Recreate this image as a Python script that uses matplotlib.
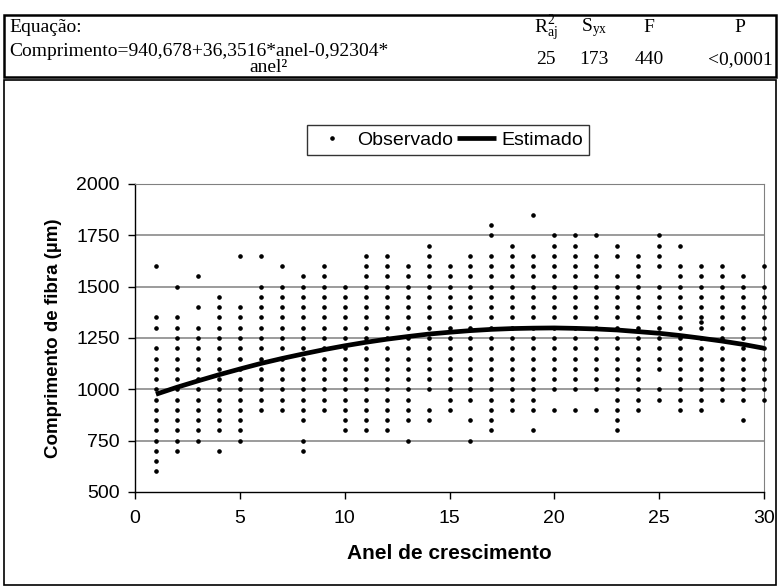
import numpy as np
import matplotlib.pyplot as plt
from matplotlib.patches import Rectangle

# ---------------------------------------------------
# Data
# ---------------------------------------------------

anel = list(range(1, 31))

obs_01 = [1600, 1350, 1300, 1200, 1150, 1100, 1050, 1000, 950, 900, 850, 800, 750, 700, 650, 600]
obs_02 = [1500, 1350, 1300, 1250, 1200, 1150, 1100, 1050, 1000, 950, 900, 850, 800, 750, 700]
obs_03 = [1550, 1400, 1300, 1250, 1200, 1150, 1100, 1050, 1000, 950, 900, 850, 800, 750]
obs_04 = [1450, 1400, 1350, 1300, 1250, 1200, 1150, 1100, 1050, 1000, 950, 900, 850, 800, 700]
obs_05 = [1650, 1400, 1350, 1300, 1250, 1200, 1150, 1100, 1050, 1000, 950, 900, 850, 800, 750]
obs_06 = [1650, 1500, 1450, 1400, 1350, 1300, 1250, 1200, 1150, 1100, 1050, 1000, 950, 900]
obs_07 = [1600, 1500, 1450, 1400, 1350, 1300, 1250, 1200, 1150, 1100, 1050, 1000, 950, 900]
obs_08 = [1550, 1500, 1450, 1400, 1350, 1300, 1250, 1200, 1150, 1100, 1050, 1000, 950, 900, 850, 750, 700]
obs_09 = [1600, 1550, 1500, 1450, 1400, 1350, 1300, 1250, 1200, 1150, 1100, 1050, 1000, 950, 900]
obs_10 = [1500, 1450, 1400, 1350, 1300, 1250, 1200, 1150, 1100, 1050, 1000, 950, 900, 850, 800]
obs_11 = [1650, 1600, 1550, 1500, 1450, 1400, 1350, 1300, 1250, 1200, 1150, 1100, 1050, 1000, 950, 900, 850, 800]
obs_12 = [1650, 1600, 1550, 1500, 1450, 1400, 1350, 1300, 1250, 1200, 1150, 1100, 1050, 1000, 950, 900, 850, 800]
obs_13 = [1600, 1550, 1500, 1450, 1400, 1350, 1300, 1250, 1200, 1150, 1100, 1050, 1000, 950, 900, 850, 750]
obs_14 = [1700, 1650, 1600, 1550, 1500, 1450, 1400, 1350, 1300, 1250, 1200, 1150, 1100, 1050, 1000, 900, 850]
obs_15 = [1600, 1550, 1500, 1450, 1400, 1350, 1300, 1250, 1200, 1150, 1100, 1050, 1000, 950, 900]
obs_16 = [1650, 1600, 1550, 1500, 1450, 1400, 1350, 1300, 1250, 1200, 1150, 1100, 1050, 1000, 950, 850, 750]
obs_17 = [1800, 1750, 1650, 1600, 1550, 1500, 1450, 1400, 1350, 1300, 1250, 1200, 1150, 1100, 1050, 1000, 950, 900, 850, 800]
obs_18 = [1700, 1650, 1600, 1550, 1500, 1450, 1400, 1350, 1300, 1250, 1200, 1150, 1100, 1050, 1000, 950, 900]
obs_19 = [1850, 1650, 1600, 1550, 1500, 1450, 1400, 1350, 1300, 1250, 1200, 1150, 1100, 1050, 1000, 950, 900, 800]
obs_20 = [1750, 1700, 1650, 1600, 1550, 1500, 1450, 1400, 1350, 1300, 1250, 1200, 1150, 1100, 1050, 1000, 900]
obs_21 = [1750, 1700, 1650, 1600, 1550, 1500, 1450, 1400, 1350, 1300, 1250, 1200, 1150, 1100, 1050, 1000, 900]
obs_22 = [1750, 1650, 1600, 1550, 1500, 1450, 1400, 1350, 1300, 1250, 1200, 1150, 1100, 1050, 1000, 900]
obs_23 = [1700, 1650, 1550, 1500, 1450, 1400, 1350, 1300, 1250, 1200, 1150, 1100, 1050, 1000, 950, 900, 850, 800]
obs_24 = [1650, 1600, 1550, 1500, 1450, 1400, 1350, 1300, 1250, 1200, 1150, 1100, 1050, 1000, 950, 900]
obs_25 = [1750, 1700, 1650, 1600, 1500, 1450, 1400, 1350, 1300, 1250, 1200, 1150, 1100, 1000, 950]
obs_26 = [1700, 1600, 1550, 1500, 1450, 1400, 1350, 1300, 1250, 1200, 1150, 1100, 1050, 1000, 950, 900]
obs_27 = [1600, 1550, 1500, 1450, 1400, 1350, 1330, 1300, 1250, 1200, 1150, 1100, 1050, 1000, 950, 900]
obs_28 = [1600, 1550, 1500, 1450, 1400, 1350, 1300, 1250, 1200, 1150, 1100, 1050, 1000, 950]
obs_29 = [1550, 1500, 1450, 1400, 1350, 1300, 1250, 1200, 1150, 1100, 1050, 1000, 950, 850]
obs_30 = [1600, 1500, 1450, 1400, 1350, 1300, 1250, 1200, 1150, 1100, 1050, 1000, 950]

# fitted curve values at each anel
estimado = [976, 1010, 1041, 1071, 1099, 1126, 1150, 1172, 1193, 1212,
            1229, 1244, 1257, 1269, 1278, 1286, 1292, 1296, 1298, 1299,
            1297, 1294, 1289, 1281, 1273, 1262, 1249, 1235, 1219, 1200]

y_ticks = [500, 750, 1000, 1250, 1500, 1750, 2000]
x_ticks = [0, 5, 10, 15, 20, 25, 30]

# header table texts
eq_label = "Equação:"
eq_line1 = "Comprimento=940,678+36,3516*anel-0,92304*"
eq_line2 = "anel²"
stat_names = [r"R$^{2}_{\mathrm{aj}}$", r"S$_{\mathrm{yx}}$", "F", "P"]
stat_values = ["25", "173", "440", "<0,0001"]

# ---------------------------------------------------
# Figure
# ---------------------------------------------------

plt.rcParams["font.family"] = ["Liberation Sans", "DejaVu Sans"]
plt.rcParams["mathtext.fontset"] = "custom"
plt.rcParams["mathtext.rm"] = "Liberation Serif"
plt.rcParams["mathtext.it"] = "Liberation Serif:italic"

W, H = 779, 588
fig = plt.figure(figsize=(W / 100, H / 100), dpi=100)


def fx(px):
    return px / W


def fy(py):
    return 1 - py / H


# outer boxes
fig.patches.append(Rectangle((fx(4), fy(77)), fx(772), 62 / H, transform=fig.transFigure,
                             fill=False, edgecolor="black", linewidth=1.8))
fig.patches.append(Rectangle((fx(4), fy(585)), fx(772), 505 / H, transform=fig.transFigure,
                             fill=False, edgecolor="black", linewidth=1.2))

serif = {"family": ["Liberation Serif", "DejaVu Serif"], "fontsize": 14}
fig.text(fx(9), fy(28), eq_label, ha="left", va="center", **serif)
fig.text(fx(9), fy(51), eq_line1, ha="left", va="center", **serif)
fig.text(fx(268), fy(68), eq_line2, ha="center", va="center", **serif)

col_x = [546, 594, 649, 740]
for name, val, cx in zip(stat_names, stat_values, col_x):
    fig.text(fx(cx), fy(28), name, ha="center", va="center", **serif)
    fig.text(fx(cx), fy(60), val, ha="center", va="center", **serif)

# ---------------------------------------------------
# Plot area
# ---------------------------------------------------

ax = fig.add_axes([fx(135), fy(492), fx(764 - 135), (492 - 184) / H])

obs_lists = [obs_01, obs_02, obs_03, obs_04, obs_05, obs_06, obs_07, obs_08, obs_09, obs_10,
             obs_11, obs_12, obs_13, obs_14, obs_15, obs_16, obs_17, obs_18, obs_19, obs_20,
             obs_21, obs_22, obs_23, obs_24, obs_25, obs_26, obs_27, obs_28, obs_29, obs_30]

xs = []
ys = []
for a, vals in zip(anel, obs_lists):
    xs += [a] * len(vals)
    ys += vals

ax.plot(xs, ys, linestyle="none", marker="o", markersize=2.3,
        color="black", label="Observado", zorder=3, clip_on=False)
ax.plot(anel, estimado, color="black", linewidth=3.4,
        label="Estimado", zorder=4, solid_capstyle="butt")

ax.set_xlim(0, 30)
ax.set_ylim(500, 2000)
ax.set_xticks(x_ticks)
ax.set_yticks(y_ticks)
ax.tick_params(labelsize=14, direction="out", length=5, width=1)
ax.tick_params(axis="x", pad=8)
ax.tick_params(axis="y", pad=6)

for yv in y_ticks[1:]:
    ax.axhline(yv, color="#808080", linewidth=1.1, zorder=1)

ax.spines["left"].set_color("black")
ax.spines["bottom"].set_color("black")
ax.spines["top"].set_color("#808080")
ax.spines["right"].set_color("#808080")
ax.spines["left"].set_linewidth(1)
ax.spines["bottom"].set_linewidth(1)

ax.set_xlabel("Anel de crescimento", fontsize=15, fontweight="bold", labelpad=12)
ax.set_ylabel("Comprimento de fibra (µm)", fontsize=13.5, fontweight="bold", labelpad=10)

leg = fig.legend(loc="center", bbox_to_anchor=(fx(448), fy(140)), ncol=2,
                 frameon=True, fancybox=False, fontsize=14,
                 handlelength=2.0, columnspacing=0.2, handletextpad=0.3,
                 borderpad=0.3, markerscale=1.0)
leg.get_frame().set_edgecolor("black")
leg.get_frame().set_linewidth(1)

plt.savefig("out.png", dpi=100)
